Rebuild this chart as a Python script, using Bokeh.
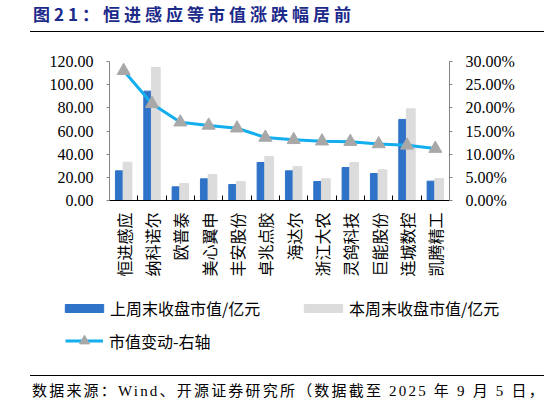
import numpy as np
from bokeh.plotting import figure
from bokeh.layouts import column
from bokeh.models import (Range1d, LinearAxis, FixedTicker, NumeralTickFormatter,
                          Legend, LegendItem, Div)
from bokeh.embed import file_html
from bokeh.resources import INLINE


# ===== DATA ==========================================
names = ["恒进感应", "纳科诺尔", "欧普泰", "美心翼申", "丰安股份", "卓兆点胶",
         "海达尔", "浙江大农", "灵鸽科技", "巨能股份", "连城数控", "凯腾精工"]
last_week = [25.6, 94.4, 11.8, 18.7, 13.8, 32.8, 25.6, 16.4, 28.5, 23.3, 70.0, 16.7]   # 亿元
this_week = [33.1, 114.8, 14.7, 22.4, 16.4, 38.0, 29.4, 18.7, 32.8, 26.5, 79.2, 19.0]  # 亿元
change_pct = [28.0, 20.9, 16.9, 16.2, 15.6, 13.6, 13.1, 12.8, 12.7, 12.2, 11.9, 11.2]  # %

left_ticks = [0, 20, 40, 60, 80, 100, 120]
right_ticks = [0, 0.05, 0.10, 0.15, 0.20, 0.25, 0.30]

title_text = "图21：恒进感应等市值涨跌幅居前"
source_text = "数据来源：Wind、开源证券研究所（数据截至 2025 年 9 月 5 日，"

# ===== STYLE =========================================
num_font = "Liberation Serif"
cjk_font = "Noto Sans CJK SC"
blue = "#2F73C8"
grey = "#DCDCDC"
cyan = "#12AEEE"
marker_grey = "#A8A8A8"
W = 544

n = len(names)
x = np.arange(1, n + 1)
change = np.array(change_pct) / 100


def draw_series(fig, y2_name):
    b1 = fig.vbar(x=x - 0.155, top=last_week, width=0.27, color=blue)
    b2 = fig.vbar(x=x + 0.135, top=this_week, width=0.31, color=grey)
    ln = fig.line(x, change, y_range_name=y2_name, line_color=cyan, line_width=3)
    tr = fig.scatter(x, change, y_range_name=y2_name, marker="triangle", size=13,
                     color=marker_grey)
    return b1, b2, ln, tr


# ===== MAIN CHART ====================================
p = figure(width=W, height=254, output_backend="svg", toolbar_location=None,
           x_range=Range1d(0.5, n + 0.5), y_range=Range1d(0, 120),
           min_border_left=109, min_border_right=W - 449,
           min_border_top=25, min_border_bottom=90)
p.extra_y_ranges = {"pct": Range1d(0, 0.30)}
p.outline_line_color = None
p.xgrid.visible = False
p.ygrid.visible = False
draw_series(p, "pct")

# x axis: labels at centres, small ticks at the boundaries
p.xaxis.ticker = FixedTicker(ticks=x.tolist(),
                             minor_ticks=(x - 0.5).tolist() + [n + 0.5])
p.xaxis.major_label_overrides = {int(i): s for i, s in zip(x, names)}
p.xaxis.major_tick_line_color = None
p.xaxis.major_tick_out = 0
p.xaxis.minor_tick_in = 5
p.xaxis.minor_tick_out = 0
p.xaxis.minor_tick_line_color = "black"
p.xaxis.axis_line_color = "black"
p.xaxis.major_label_orientation = np.pi / 2
p.xaxis.major_label_standoff = 12
p.xaxis.major_label_text_font = cjk_font
p.xaxis.major_label_text_font_size = "16px"
p.xaxis.major_label_text_color = "black"

# left axis
p.yaxis.ticker = FixedTicker(ticks=left_ticks)
p.yaxis.formatter = NumeralTickFormatter(format="0.00")

# right axis
right_axis = LinearAxis(y_range_name="pct", ticker=FixedTicker(ticks=right_ticks),
                        formatter=NumeralTickFormatter(format="0.00%"))
p.add_layout(right_axis, "right")

for ax in [p.yaxis[0], right_axis]:
    ax.axis_line_color = "#868686"
    ax.major_tick_line_color = "#868686"
    ax.major_tick_in = 0
    ax.major_tick_out = 3
    ax.minor_tick_line_color = None
    ax.major_label_standoff = 13
    ax.major_label_text_font = num_font
    ax.major_label_text_font_size = "16px"
    ax.major_label_text_color = "black"

# ===== LEGEND STRIP ==================================
# same series drawn outside the visible x range, only used by the legends
lg = figure(width=W, height=78, output_backend="svg", toolbar_location=None,
            x_range=Range1d(-200, -100), y_range=Range1d(0, 120),
            min_border_left=0, min_border_right=0, min_border_top=0,
            min_border_bottom=0, x_axis_type=None, y_axis_type=None,
            outline_line_color=None, frame_align=False)
lg.extra_y_ranges = {"pct": Range1d(0, 0.30)}
lg.xgrid.visible = False
lg.ygrid.visible = False
k1, k2, k3, k4 = draw_series(lg, "pct")


def add_legend(items, loc, gw, gh, standoff, lw=None):
    leg = Legend(items=items, location=loc, orientation="horizontal",
                 glyph_width=gw, glyph_height=gh, label_standoff=standoff,
                 label_height=gh, spacing=9, padding=0, margin=0,
                 border_line_color=None, background_fill_alpha=0,
                 label_text_font=cjk_font, label_text_font_size="16px",
                 label_text_color="black")
    if lw:
        leg.label_width = lw
    lg.add_layout(leg)


add_legend([LegendItem(label="上周末收盘市值/亿元", renderers=[k1]),
            LegendItem(label="本周末收盘市值/亿元", renderers=[k2])],
           (60, 48), 48, 10, 2, 180)
add_legend([LegendItem(label="市值变动-右轴", renderers=[k3, k4])],
           (65, 15), 38, 25, 6)

# ===== TITLE / SOURCE ================================
title_div = Div(width=W, height=36, margin=(0, 0, 0, 0), text=(
    '<div style="position:relative;width:514px;height:32px;margin-left:30px;'
    'border-bottom:1px solid #000;">'
    '<span style="position:absolute;left:3px;top:5px;line-height:17px;'
    'font-size:17px;font-weight:bold;letter-spacing:4px;white-space:nowrap;'
    'color:#1C2A8A;font-family:\'Noto Sans CJK SC\';">' + title_text + '</span></div>'))

source_div = Div(width=W, height=36, margin=(0, 0, 0, 0), text=(
    '<div style="position:relative;width:514px;height:26px;margin-left:30px;'
    'margin-top:7px;border-top:1px solid #000;">'
    '<span style="position:absolute;left:2px;top:8px;line-height:15px;'
    'font-size:15px;letter-spacing:2.2px;white-space:nowrap;color:#000;'
    'font-family:\'Liberation Serif\',\'Noto Sans CJK SC\';">' + source_text + '</span></div>'))

layout = column(title_div, p, lg, source_div, spacing=0)

open("out.html", "w").write(file_html(layout, INLINE))
